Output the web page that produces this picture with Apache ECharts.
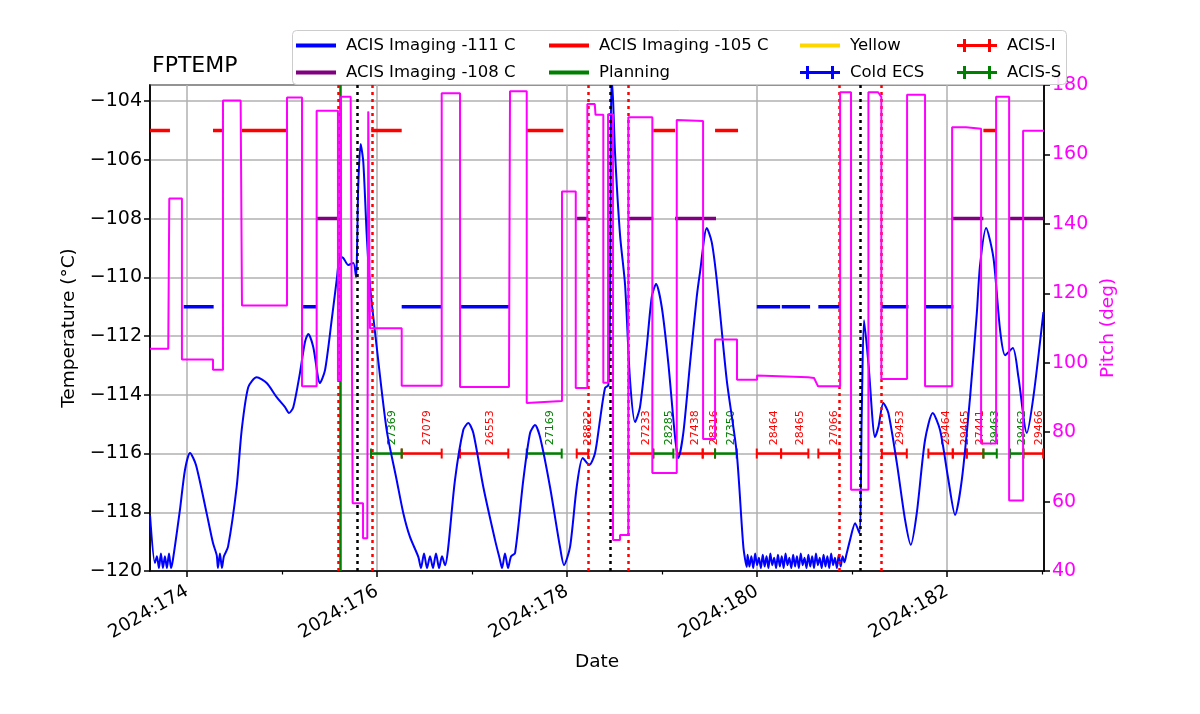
<!DOCTYPE html>
<html>
<head>
<meta charset="utf-8">
<script src="https://cdn.jsdelivr.net/npm/echarts@6/dist/echarts.min.js"></script>
<style>
  html, body { margin: 0; background: #fff; }
  #chart { width: 1200px; height: 714px; }
</style>
</head>
<body>
<div id="chart"></div>
<script>
// x values are day-of-year in 2024
const majorDays = [174, 176, 178, 180, 182]
const minorDays = [175, 177, 179, 181, 183]
const tempTicks = [-120, -118, -116, -114, -112, -110, -108, -106, -104]
const pitchTicks = [40, 60, 80, 100, 120, 140, 160, 180]

// FPTEMP (deg C)
const fptemp = [
  [173.611, -118.09], [173.663, -119.73], [173.684, -119.5], [173.705, -119.9], [173.726, -119.4], [173.747, -119.9],
  [173.768, -119.5], [173.789, -119.9], [173.811, -119.4], [173.832, -119.9], [173.853, -119.6],
  [173.926, -117.92], [173.979, -116.56], [174.032, -115.98], [174.095, -116.39], [174.207, -118.03], [174.274, -119.05],
  [174.313, -119.46], [174.326, -119.9], [174.347, -119.4], [174.368, -119.9], [174.389, -119.5],
  [174.432, -119.18], [174.523, -117.14], [174.576, -115.2], [174.645, -113.74], [174.734, -113.4], [174.839, -113.6],
  [174.944, -114.08], [175.032, -114.42], [175.074, -114.62], [175.119, -114.42], [175.189, -113.26], [175.242, -112.2],
  [175.277, -111.93], [175.329, -112.37], [175.4, -113.6], [175.453, -113.16], [175.523, -111.46], [175.576, -110.09],
  [175.611, -109.31], [175.645, -109.34], [175.698, -109.58], [175.751, -109.51], [175.779, -109.99], [175.803, -106.86],
  [175.828, -105.46], [175.856, -106.08], [175.892, -108.56], [175.926, -110.26], [175.997, -112.37], [176.102, -115.2],
  [176.207, -116.9], [176.277, -118.03], [176.347, -118.84], [176.435, -119.52],
  [176.463, -119.9], [176.495, -119.4], [176.526, -119.9], [176.558, -119.5], [176.589, -119.9], [176.621, -119.4],
  [176.653, -119.9], [176.684, -119.5], [176.716, -119.8],
  [176.747, -119.28], [176.821, -116.9], [176.908, -115.2], [176.961, -114.96], [177.014, -115.3], [177.119, -117.14],
  [177.242, -118.94], [177.295, -119.63], [177.316, -119.9], [177.347, -119.4], [177.379, -119.9], [177.411, -119.5],
  [177.453, -119.39], [177.54, -116.9], [177.611, -115.3], [177.663, -115.03], [177.716, -115.44], [177.821, -117.14],
  [177.926, -119.18], [177.968, -119.8], [178.032, -119.18], [178.102, -117.14], [178.165, -116.15], [178.235, -116.39],
  [178.295, -115.98], [178.347, -114.86], [178.4, -113.77], [178.435, -113.67], [178.453, -110.77], [178.46, -105.8],
  [178.468, -103.2], [178.485, -104.0], [178.505, -105.74], [178.558, -108.56], [178.611, -110.26], [178.663, -113.5],
  [178.716, -114.93], [178.768, -114.42], [178.839, -112.37], [178.892, -110.67], [178.937, -110.23], [178.997, -111.01],
  [179.066, -112.92], [179.137, -115.44], [179.172, -116.15], [179.224, -115.3], [179.295, -112.92], [179.365, -110.67],
  [179.4, -109.82], [179.471, -108.32], [179.523, -108.8], [179.576, -110.09], [179.681, -113.5], [179.786, -115.98],
  [179.856, -119.18], [179.892, -119.86],
  [179.90, -119.45], [179.92, -119.85], [179.94, -119.5], [179.96, -119.9], [179.98, -119.4], [180.00, -119.8],
  [180.02, -119.55], [180.04, -119.9], [180.06, -119.45], [180.08, -119.85], [180.10, -119.5], [180.12, -119.9],
  [180.14, -119.4], [180.16, -119.8], [180.18, -119.55], [180.20, -119.9], [180.22, -119.45], [180.24, -119.85],
  [180.26, -119.5], [180.28, -119.9], [180.30, -119.4], [180.32, -119.8], [180.34, -119.55], [180.36, -119.9],
  [180.38, -119.45], [180.40, -119.85], [180.42, -119.5], [180.44, -119.9], [180.46, -119.4], [180.48, -119.8],
  [180.50, -119.55], [180.52, -119.9], [180.54, -119.45], [180.56, -119.85], [180.58, -119.5], [180.60, -119.9],
  [180.62, -119.4], [180.64, -119.8], [180.66, -119.55], [180.68, -119.9], [180.70, -119.45], [180.72, -119.85],
  [180.74, -119.5], [180.76, -119.9], [180.78, -119.4], [180.80, -119.8], [180.82, -119.55], [180.84, -119.9],
  [180.86, -119.45], [180.88, -119.85], [180.90, -119.5], [180.92, -119.7], [180.94, -119.45],
  [180.979, -118.94], [181.032, -118.37], [181.077, -118.71], [181.102, -114.62], [181.126, -111.46], [181.172, -112.92],
  [181.242, -115.44], [181.277, -115.1], [181.329, -114.28], [181.382, -114.62], [181.471, -116.32], [181.558, -118.26],
  [181.618, -119.11], [181.681, -118.03], [181.768, -115.54], [181.849, -114.62], [181.926, -115.2], [182.014, -116.9],
  [182.084, -118.09], [182.155, -116.9], [182.242, -114.08], [182.313, -111.22], [182.347, -109.58], [182.411, -108.32],
  [182.488, -109.34], [182.558, -111.8], [182.611, -112.65], [182.692, -112.41], [182.751, -113.4], [182.839, -115.3],
  [182.908, -114.08], [183.014, -111.18]
]

// pitch (deg)
const pitch = [
  [173.611, 104.0], [173.803, 104.0], [173.814, 147.3], [173.947, 147.3], [173.947, 100.9], [174.274, 100.9],
  [174.274, 98.0], [174.379, 98.0], [174.379, 175.5], [174.565, 175.5], [174.579, 116.5], [175.053, 116.5],
  [175.053, 176.4], [175.211, 176.4], [175.211, 93.2], [175.365, 93.2], [175.365, 172.6], [175.589, 172.6],
  [175.589, 95.0], [175.621, 95.0], [175.621, 176.6], [175.723, 176.6], [175.744, 59.5], [175.853, 59.5],
  [175.853, 49.4], [175.898, 49.4], [175.908, 172.4], [175.926, 172.4], [175.926, 109.9], [176.26, 109.9],
  [176.26, 93.4], [176.681, 93.4], [176.681, 177.6], [176.874, 177.6], [176.874, 93.0], [177.389, 93.0],
  [177.4, 178.2], [177.576, 178.2], [177.576, 88.4], [177.947, 89.0], [177.947, 149.3], [178.092, 149.3],
  [178.092, 92.7], [178.214, 92.7], [178.214, 174.5], [178.292, 174.5], [178.3, 171.4], [178.382, 171.4],
  [178.382, 94.2], [178.432, 94.2], [178.432, 171.6], [178.484, 171.6], [178.484, 48.9], [178.558, 48.9],
  [178.558, 50.4], [178.645, 50.4], [178.645, 170.7], [178.898, 170.7], [178.898, 68.2], [179.155, 68.2],
  [179.155, 169.9], [179.432, 169.6], [179.432, 78.0], [179.558, 78.0], [179.558, 106.7], [179.789, 106.7],
  [179.789, 95.1], [180.0, 95.1], [180.0, 96.3], [180.537, 95.8], [180.6, 95.6], [180.642, 93.2],
  [180.874, 93.2], [180.874, 177.9], [180.989, 177.9], [180.989, 63.4], [181.172, 63.4], [181.172, 177.9],
  [181.274, 177.9], [181.308, 176.6], [181.308, 95.3], [181.579, 95.3], [181.579, 177.2], [181.768, 177.2],
  [181.768, 93.2], [182.053, 93.2], [182.053, 167.8], [182.2, 167.8], [182.2, 167.4], [182.358, 167.4],
  [182.358, 76.7], [182.516, 76.7], [182.516, 176.6], [182.653, 176.6], [182.653, 60.3], [182.8, 60.3],
  [182.8, 166.8], [183.021, 166.8]
]

// limit periods [start, end]
const limit111 = [[173.965, 174.281], [175.207, 175.365], [176.26, 176.684], [176.874, 177.389], [179.997, 180.243],
  [180.26, 180.558], [180.645, 180.874], [181.313, 181.593], [181.768, 182.067]]
const limit105 = [[173.611, 173.821], [174.274, 174.379], [174.579, 175.053], [175.939, 176.26], [177.576, 177.961],
  [178.908, 179.137], [179.558, 179.8], [182.382, 182.523]]
const limit108 = [[175.365, 175.593], [178.102, 178.224], [178.645, 178.908], [179.137, 179.568], [182.05, 182.382],
  [182.663, 183.014]]

// vertical event markers
const planningDay = [175.611]
const redEvents = [175.589, 175.947, 178.221, 178.642, 180.874, 181.305]
const blackEvents = [175.789, 178.453, 181.095]

// observations
const obsStart = [175.937, 176.26, 176.874, 177.576, 178.102, 178.645, 178.908, 179.155, 179.428, 179.558, 179.997,
  180.253, 180.645, 181.313, 181.803, 182.06, 182.207, 182.382, 182.663, 182.803]
const obsEnd = [176.26, 176.681, 177.382, 177.944, 178.224, 178.908, 179.119, 179.428, 179.558, 179.786, 180.253,
  180.54, 180.866, 181.576, 182.06, 182.207, 182.382, 182.523, 182.803, 183.011]
const obsId = [27369, 27079, 26553, 27169, 28822, 27233, 28285, 27438, 28316, 27350, 28464,
  28465, 27066, 29453, 29464, 29465, 27441, 29463, 29462, 29466]
const obsInst = ['S', 'I', 'I', 'S', 'I', 'I', 'S', 'I', 'I', 'S', 'I',
  'I', 'I', 'I', 'I', 'I', 'I', 'S', 'S', 'I']
const obsLevel = -116
const obsLabelLevel = -115.72

const FONT = 'DejaVu Sans'
const lineIcon = 'path://M0,0h40v4h-40z'
const barIcon = 'path://M0,5h40v3h-40zM6,0h3v13h-3zM31,0h3v13h-3z'

function segLine(segs, v) {
  const out = []
  segs.forEach(([s, e]) => { out.push([s, v], [e, v], [e, '-']) })
  return out
}

function obsData(inst) {
  const out = []
  obsStart.forEach((s, i) => {
    if (obsInst[i] === inst) out.push([s, obsEnd[i], obsLevel, obsId[i]])
  })
  return out
}

function renderObs(params, api) {
  const y = api.value(2)
  const a = api.coord([api.value(0), y])
  const b = api.coord([api.value(1), y])
  const t = api.coord([(api.value(0) + api.value(1)) / 2, obsLabelLevel])
  const color = api.visual('color')
  return {
    type: 'group',
    children: [
      { type: 'line', shape: { x1: a[0], y1: a[1], x2: b[0], y2: b[1] }, style: { stroke: color, lineWidth: 2.5 } },
      { type: 'line', shape: { x1: a[0], y1: a[1] - 5, x2: a[0], y2: a[1] + 5 }, style: { stroke: color, lineWidth: 2 } },
      { type: 'line', shape: { x1: b[0], y1: b[1] - 5, x2: b[0], y2: b[1] + 5 }, style: { stroke: color, lineWidth: 2 } },
      {
        type: 'text', x: t[0], y: t[1], rotation: Math.PI / 2,
        style: { text: String(api.value(3)), fill: color, fontSize: 11, fontFamily: FONT, align: 'left', verticalAlign: 'top' }
      }
    ]
  }
}

function limitSeries(name, segs, v, color) {
  return {
    name, type: 'line', data: segLine(segs, v), showSymbol: false, z: 2,
    lineStyle: { color, width: 3.5 }, itemStyle: { color }
  }
}

const chart = echarts.init(document.getElementById('chart'))

const legendBase = {
  orient: 'vertical', top: 37, itemWidth: 40, itemHeight: 14, itemGap: 10, padding: 0,
  icon: lineIcon, selectedMode: false, z: 20,
  itemStyle: { borderWidth: 0 },
  textStyle: { fontSize: 16.5, fontFamily: FONT, color: '#000', padding: [0, 0, 0, 5] }
}

chart.setOption({
  animation: false,
  backgroundColor: '#fff',
  title: {
    text: 'FPTEMP', left: 147, top: 50,
    textStyle: { fontSize: 22, fontWeight: 'normal', fontFamily: FONT, color: '#000' }
  },
  graphic: [{
    type: 'rect', left: 292, top: 30, z: 15,
    shape: { width: 774, height: 54, r: 4 },
    style: { fill: 'rgba(255,255,255,0.85)', stroke: '#cccccc', lineWidth: 1 }
  }],
  legend: [
    { ...legendBase, left: 296, data: ['ACIS Imaging -111 C', 'ACIS Imaging -108 C'] },
    { ...legendBase, left: 549, data: ['ACIS Imaging -105 C', 'Planning'] },
    { ...legendBase, left: 800, data: ['Yellow', { name: 'Cold ECS', icon: barIcon }] },
    { ...legendBase, left: 957, data: [{ name: 'ACIS-I', icon: barIcon }, { name: 'ACIS-S', icon: barIcon }] }
  ],
  grid: { left: 150, right: 156, top: 85, bottom: 143, show: true, borderColor: '#000', borderWidth: 1.5 },
  xAxis: [
    {
      type: 'value', min: 173.611, max: 183.02, position: 'bottom',
      name: 'Date', nameLocation: 'middle', nameGap: 82,
      nameTextStyle: { fontSize: 18.5, fontFamily: FONT, color: '#000' },
      axisLine: { show: true, lineStyle: { color: '#000', width: 1.5 } },
      axisTick: { customValues: majorDays, length: 6, lineStyle: { color: '#000', width: 1.5 } },
      axisLabel: {
        customValues: majorDays, rotate: 30, margin: 19,
        fontSize: 18.5, fontFamily: FONT, color: '#000',
        formatter: (v) => '2024:' + v
      },
      splitLine: { show: true, lineStyle: { color: '#b0b0b0', width: 1.5 } }
    },
    {
      type: 'value', min: 173.611, max: 183.02, position: 'bottom',
      axisLine: { show: false },
      axisTick: { customValues: minorDays, length: 3.5, lineStyle: { color: '#000', width: 1.2 } },
      axisLabel: { show: false },
      splitLine: { show: false }
    }
  ],
  yAxis: [
    {
      type: 'value', min: -120, max: -103.45, interval: 2,
      name: 'Temperature (°C)', nameLocation: 'middle', nameGap: 70,
      nameTextStyle: { fontSize: 18.5, fontFamily: FONT, color: '#000' },
      axisLine: { show: true, lineStyle: { color: '#000', width: 1.5 } },
      axisTick: { show: true, length: 6, lineStyle: { color: '#000', width: 1.5 } },
      axisLabel: {
        showMaxLabel: false, fontSize: 19, fontFamily: FONT, color: '#000', margin: 8,
        formatter: (v) => tempTicks.includes(v) ? '\u2212' + Math.abs(v) : ''
      },
      splitLine: { show: true, lineStyle: { color: '#b0b0b0', width: 1.5 } }
    },
    {
      type: 'value', min: 40, max: 180, interval: 20, position: 'right',
      name: 'Pitch (deg)', nameLocation: 'middle', nameGap: 54, nameRotate: 90,
      nameTextStyle: { fontSize: 18.5, fontFamily: FONT, color: '#ff00ff' },
      axisLine: { show: true, lineStyle: { color: '#000', width: 1.5 } },
      axisTick: { show: true, length: 6, lineStyle: { color: '#000', width: 1.5 } },
      axisLabel: {
        fontSize: 19, fontFamily: FONT, color: '#ff00ff', margin: 8,
        formatter: (v) => pitchTicks.includes(v) ? String(v) : ''
      },
      splitLine: { show: false }
    }
  ],
  series: [
    {
      name: 'FPTEMP', type: 'line', data: fptemp, showSymbol: false, smooth: 0.25, z: 4,
      lineStyle: { color: '#0000ff', width: 2 }, itemStyle: { color: '#0000ff' },
      markLine: {
        silent: true, symbol: ['none', 'none'], label: { show: false }, animation: false,
        data: [
          ...redEvents.map((d) => ({ xAxis: d, lineStyle: { color: '#ff0000', type: [3, 4], width: 2.5 } })),
          ...blackEvents.map((d) => ({ xAxis: d, lineStyle: { color: '#000000', type: [3, 4], width: 2.5 } }))
        ]
      }
    },
    limitSeries('ACIS Imaging -111 C', limit111, -111, '#0000ff'),
    limitSeries('ACIS Imaging -105 C', limit105, -105, '#ff0000'),
    limitSeries('ACIS Imaging -108 C', limit108, -108, '#800080'),
    {
      name: 'Planning', type: 'line', data: [], z: 3,
      lineStyle: { color: '#008000', width: 3 }, itemStyle: { color: '#008000' },
      markLine: {
        silent: true, symbol: ['none', 'none'], label: { show: false }, animation: false,
        data: planningDay.map((d) => ({ xAxis: d, lineStyle: { color: '#008000', type: 'solid', width: 2.5 } }))
      }
    },
    { name: 'Yellow', type: 'line', data: [], lineStyle: { color: '#ffd700', width: 3 }, itemStyle: { color: '#ffd700' } },
    { name: 'Cold ECS', type: 'custom', data: [], renderItem: renderObs, itemStyle: { color: '#0000ff' } },
    {
      name: 'ACIS-I', type: 'custom', data: obsData('I'), renderItem: renderObs, z: 3,
      encode: { x: [0, 1], y: 2 }, itemStyle: { color: '#ff0000' }
    },
    {
      name: 'ACIS-S', type: 'custom', data: obsData('S'), renderItem: renderObs, z: 3,
      encode: { x: [0, 1], y: 2 }, itemStyle: { color: '#008000' }
    },
    {
      name: 'Pitch', type: 'line', yAxisIndex: 1, data: pitch, showSymbol: false, z: 10,
      lineStyle: { color: '#ff00ff', width: 2 }, itemStyle: { color: '#ff00ff' }
    }
  ]
})
</script>
</body>
</html>
